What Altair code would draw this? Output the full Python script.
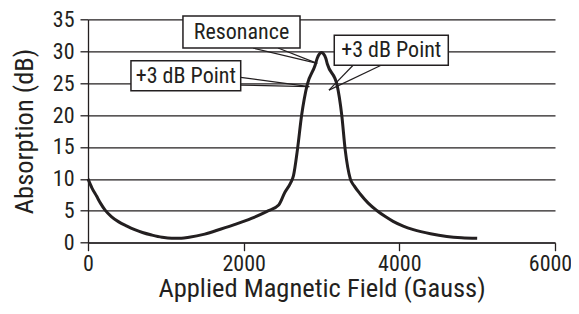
import altair as alt
import pandas as pd

# Curve: applied magnetic field (Gauss) vs absorption (dB)
field = [0, 50, 110, 160, 220, 300, 390, 500, 600, 700, 820, 950, 1075, 1200,
         1300, 1500, 1700, 1900, 2100, 2300, 2450, 2530, 2600, 2640, 2690, 2745,
         2815, 2918, 2945, 2975, 3000, 3025, 3055, 3075, 3200, 3260, 3305, 3370,
         3420, 3500, 3600, 3710, 3820, 3920, 4050, 4180, 4400, 4610, 4800, 5000]
absorption = [10, 8.6, 7.3, 6.2, 5.1, 4.1, 3.3, 2.6, 2.05, 1.6, 1.2, 0.85, 0.68,
              0.7, 0.85, 1.35, 2.1, 2.9, 3.8, 4.9, 5.9, 7.9, 9.3, 10.5, 14.5, 20,
              24.7, 27.8, 28.9, 29.6, 29.8, 29.6, 28.9, 28.0, 24.7, 20, 14.5, 10,
              8.9, 7.6, 6.2, 5.05, 4.1, 3.35, 2.6, 2.05, 1.4, 0.98, 0.78, 0.7]

# Callout boxes (data coordinates)
box_text = ["Resonance", "+3 dB Point", "+3 dB Point"]
box_left = [1220, 552, 3164]
box_right = [2724, 1962, 4629]
box_bottom = [30.5, 23.8, 27.8]
box_top = [35.5, 28.5, 32.5]

# Callout pointers (two lines per callout)
ptr_from_x = [2120, 2441, 1962, 1962, 3409, 3773]
ptr_from_y = [30.5, 30.5, 25.9, 24.7, 27.84, 27.84]
ptr_to_x = [2945, 2945, 2843, 2843, 3096, 3096]
ptr_to_y = [28.1, 28.1, 24.44, 24.44, 23.9, 23.9]

x_ticks = [0, 2000, 4000, 6000]
y_ticks = [0, 5, 10, 15, 20, 25, 30, 35]

FONT = "Liberation Sans Narrow, Roboto Condensed, DejaVu Sans Condensed, sans-serif"
INK = "#231f20"

curve_df = pd.DataFrame({"x1": field, "y1": absorption})
box_df = pd.DataFrame({"label": box_text, "x1": box_left, "x2": box_right,
                       "y1": box_bottom, "y2": box_top})
box_df["xc"] = (box_df["x1"] + box_df["x2"]) / 2
box_df["yc"] = (box_df["y1"] + box_df["y2"]) / 2
ptr_df = pd.DataFrame({"x1": ptr_from_x, "y1": ptr_from_y,
                       "x2": ptr_to_x, "y2": ptr_to_y})

xscale = alt.Scale(domain=[0, 6000], nice=False, zero=False)
yscale = alt.Scale(domain=[0, 35], nice=False, zero=False)

xaxis = alt.Axis(values=x_ticks, grid=False, title="Applied Magnetic Field (Gauss)",
                 labelFont=FONT, labelFontSize=22, labelColor=INK, labelPadding=3,
                 labelFlush=False, labelOverlap=False,
                 labelOffset={"condition": {"test": "datum.value === 6000", "value": -5},
                              "value": 0},
                 titleFont=FONT, titleFontSize=26.5, titleFontWeight="normal",
                 titleColor=INK, titlePadding=1, domainColor=INK, domainWidth=1.3,
                 tickColor=INK, tickSize=8, tickWidth=1.3, format="d")
yaxis = alt.Axis(values=y_ticks, grid=True, gridColor=INK, gridWidth=1.3,
                 gridOpacity=1, title="Absorption (dB)",
                 labelFont=FONT, labelFontSize=22, labelColor=INK, labelPadding=6,
                 labelFlush=False, labelOverlap=False,
                 titleFont=FONT, titleFontSize=26.5, titleFontWeight="normal",
                 titleColor=INK, titlePadding=14, domainColor=INK, domainWidth=1.3,
                 tickColor=INK, tickSize=8, tickWidth=1.3)


def X(field_name):
    return alt.X(f"{field_name}:Q", scale=xscale, axis=xaxis)


def Y(field_name):
    return alt.Y(f"{field_name}:Q", scale=yscale, axis=yaxis)


curve = alt.Chart(curve_df).mark_line(color=INK, strokeWidth=3,
                                      interpolate="monotone").encode(
    x=X("x1"), y=Y("y1"),
)

pointers = alt.Chart(ptr_df).mark_rule(color=INK, strokeWidth=1.2).encode(
    x=X("x1"), y=Y("y1"), x2="x2:Q", y2="y2:Q"
)

boxes = alt.Chart(box_df).mark_rect(fill="white", stroke=INK, strokeWidth=1.5).encode(
    x=X("x1"), x2="x2:Q", y=Y("y1"), y2="y2:Q"
)

labels = alt.Chart(box_df).mark_text(font=FONT, fontSize=22, color=INK,
                                     align="center", baseline="middle").encode(
    x=X("xc"), y=Y("yc"), text="label:N"
)

chart = alt.layer(curve, pointers, boxes, labels).properties(
    width=467, height=223.4,
    autosize=alt.AutoSizeParams(type="none"),
    padding={"left": 80, "top": 11.3, "right": 16, "bottom": 63.3},
).configure_view(stroke=None)

chart.save("out.html", embed_options={"renderer": "svg", "actions": False})
